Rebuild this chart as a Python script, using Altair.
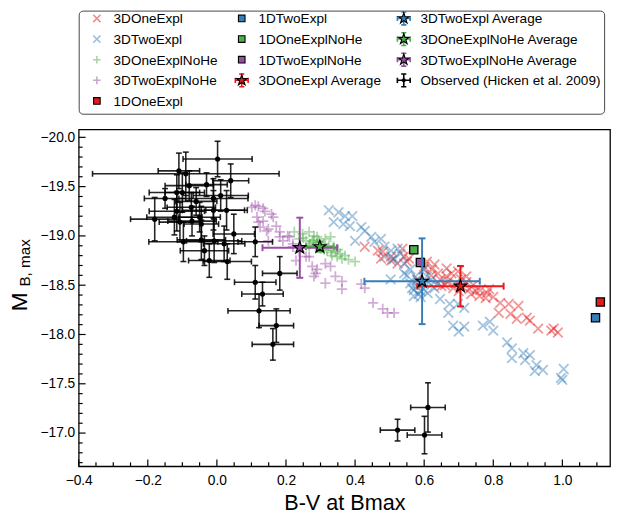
import altair as alt
import pandas as pd

FONT = "Liberation Sans"
RED, BLUE, GREEN, PURPLE = "#e41a1c", "#377eb8", "#4daf4a", "#984ea3"

LABELS = ["3DOneExpl", "3DTwoExpl", "3DOneExplNoHe", "3DTwoExplNoHe", "1DOneExpl",
          "1DTwoExpl", "1DOneExplNoHe", "1DTwoExplNoHe", "3DOneExpl Average",
          "3DTwoExpl Average", "3DOneExplNoHe Average", "3DTwoExplNoHe Average",
          "Observed (Hicken et al. 2009)"]
COLORS = [RED, BLUE, GREEN, PURPLE, RED, BLUE, GREEN, PURPLE, RED, BLUE, GREEN, PURPLE, "black"]
LEG_KIND = ["x", "x", "plus", "plus", "square", "square", "square", "square",
            "avg", "avg", "avg", "avg", "obs"]
LEG_COL = [0, 0, 0, 0, 0, 1, 1, 1, 1, 2, 2, 2, 2]
LEG_ROW = [0, 1, 2, 3, 4, 0, 1, 2, 3, 0, 1, 2, 3]

# 3DOneExpl
red_x = [0.428, 0.466, 0.475, 0.504, 0.523, 0.542, 0.550, 0.600, 0.480, 0.504, 0.537, 0.556,
         0.608, 0.622, 0.630, 0.665, 0.679, 0.665, 0.698, 0.722, 0.650, 0.684, 0.731, 0.750,
         0.736, 0.760, 0.788, 0.778, 0.820, 0.845, 0.873, 0.816, 0.850, 0.897, 0.906, 0.930,
         0.968, 0.987, 0.598, 0.580, 0.646, 0.707, 0.868, 0.975, 0.690, 0.712, 0.722, 0.670,
         0.742, 0.762, 0.700, 0.640, 0.620, 0.660, 0.782, 0.800]
red_y = [-18.89, -18.85, -18.77, -18.75, -18.72, -18.79, -18.74, -18.69, -18.84, -18.79, -18.87, -18.77,
         -18.74, -18.66, -18.71, -18.67, -18.62, -18.59, -18.64, -18.59, -18.49, -18.47, -18.46, -18.44,
         -18.41, -18.39, -18.46, -18.37, -18.32, -18.31, -18.29, -18.22, -18.21, -18.17, -18.14, -18.06,
         -18.04, -18.02, -18.66, -18.56, -18.56, -18.56, -18.16, -18.06, -18.52, -18.48, -18.53, -18.54,
         -18.50, -18.45, -18.44, -18.62, -18.60, -18.50, -18.42, -18.38]
# 3DTwoExpl
blue_x = [0.324, 0.352, 0.371, 0.392, 0.338, 0.366, 0.385, 0.418, 0.428, 0.400, 0.447, 0.456,
          0.475, 0.485, 0.504, 0.523, 0.485, 0.513, 0.531, 0.542, 0.560, 0.575, 0.560, 0.580,
          0.598, 0.584, 0.600, 0.509, 0.542, 0.503, 0.565, 0.570, 0.590, 0.608, 0.646, 0.674,
          0.670, 0.698, 0.716, 0.684, 0.700, 0.716, 0.770, 0.790, 0.800, 0.840, 0.854, 0.887,
          0.854, 0.906, 0.925, 0.944, 0.920, 1.004, 0.996, 1.000, 0.892, 0.580, 0.600, 0.620,
          0.570, 0.610, 0.630, 0.590, 0.550, 0.620, 0.640]
blue_y = [-19.26, -19.24, -19.20, -19.20, -19.14, -19.12, -19.10, -19.09, -19.05, -18.95, -18.99, -18.94,
          -18.97, -18.89, -18.85, -18.87, -18.79, -18.77, -18.82, -18.72, -18.66, -18.59, -18.52, -18.49,
          -18.46, -18.41, -18.66, -18.76, -18.62, -18.56, -18.47, -18.39, -18.44, -18.59, -18.36, -18.31,
          -18.22, -18.31, -18.27, -18.09, -18.03, -18.08, -18.09, -18.13, -18.04, -17.92, -17.86, -17.81,
          -17.76, -17.79, -17.69, -17.64, -17.63, -17.65, -17.56, -17.54, -17.74, -18.55, -18.52, -18.50,
          -18.45, -18.42, -18.47, -18.38, -18.60, -18.56, -18.52]
# 3DOneExplNoHe
green_x = [0.224, 0.248, 0.267, 0.281, 0.258, 0.276, 0.295, 0.310, 0.324, 0.319, 0.338, 0.343,
           0.357, 0.333, 0.362, 0.381, 0.400, 0.239, 0.286, 0.300, 0.267, 0.348, 0.371, 0.329,
           0.290, 0.314, 0.250, 0.270, 0.290, 0.310, 0.330, 0.350, 0.280]
green_y = [-19.04, -19.02, -19.04, -19.00, -18.95, -18.94, -18.95, -18.92, -18.90, -18.85, -18.89, -18.84,
           -18.82, -18.80, -18.77, -18.76, -18.74, -18.97, -18.89, -18.87, -18.90, -18.79, -18.80, -18.99,
           -18.99, -18.97, -18.98, -18.92, -18.93, -18.86, -18.83, -18.86, -18.96]
# 3DTwoExplNoHe
purple_x = [0.101, 0.120, 0.139, 0.116, 0.134, 0.163, 0.125, 0.144, 0.149, 0.182, 0.210, 0.220,
            0.258, 0.276, 0.286, 0.314, 0.111, 0.134, 0.120, 0.158, 0.172, 0.182, 0.149, 0.205,
            0.191, 0.220, 0.239, 0.229, 0.267, 0.290, 0.281, 0.314, 0.343, 0.362, 0.362, 0.418,
            0.428, 0.452, 0.480, 0.513, 0.494, 0.329]
purple_y = [-19.29, -19.30, -19.25, -19.19, -19.15, -19.19, -19.09, -19.05, -18.95, -18.99, -18.99, -18.92,
            -18.79, -18.69, -18.62, -18.52, -19.31, -19.28, -19.14, -19.22, -19.10, -19.04, -19.07, -19.00,
            -18.95, -18.89, -18.84, -18.75, -18.79, -18.66, -18.59, -18.72, -18.59, -18.54, -18.46, -18.51,
            -18.47, -18.32, -18.26, -18.22, -18.22, -18.69]

# 1D models
oned_labels = ["1DOneExpl", "1DTwoExpl", "1DOneExplNoHe", "1DTwoExplNoHe"]
oned_x = [1.110, 1.096, 0.570, 0.589]
oned_y = [-18.33, -18.17, -18.86, -18.73]

# 3D averages
avg_labels = ["3DOneExpl Average", "3DTwoExpl Average", "3DOneExplNoHe Average", "3DTwoExplNoHe Average"]
avg_x = [0.705, 0.594, 0.298, 0.240]
avg_y = [-18.49, -18.54, -18.89, -18.88]
avg_xerr = [0.125, 0.167, 0.040, 0.108]
avg_yerr = [0.205, 0.435, 0.050, 0.305]

# Observed (Hicken et al. 2009)
obs_x = [0.002, -0.11, -0.09, 0.04, -0.08, -0.03, -0.15, -0.116, -0.10, -0.01, 0.011, -0.06, -0.074,
         -0.116, -0.01, 0.028, -0.18, -0.123, -0.107, -0.072, -0.045, -0.05, 0.049, -0.097, -0.045,
         -0.008, 0.021, -0.036, -0.022, 0.03, 0.111, 0.182, 0.111, 0.132, 0.122, 0.172, 0.162,
         0.611, 0.601, 0.523]
obs_y = [-19.78, -19.66, -19.63, -19.56, -19.51, -19.52, -19.38, -19.44, -19.44, -19.38, -19.41, -19.35,
         -19.29, -19.25, -19.26, -19.26, -19.17, -19.19, -19.14, -19.15, -19.12, -19.19, -19.02, -18.94,
         -18.96, -18.95, -18.92, -18.85, -18.75, -18.74, -18.94, -18.62, -18.53, -18.41, -18.24, -18.09,
         -17.90, -17.26, -16.98, -17.03]
obs_xerr = [0.10, 0.06, 0.27, 0.052, 0.07, 0.06, 0.06, 0.08, 0.05, 0.10, 0.08, 0.06, 0.07, 0.08, 0.09,
            0.06, 0.07, 0.08, 0.06, 0.07, 0.05, 0.06, 0.06, 0.10, 0.07, 0.08, 0.06, 0.07, 0.06, 0.07,
            0.05, 0.05, 0.06, 0.06, 0.09, 0.05, 0.06, 0.05, 0.05, 0.05]
obs_yerr = [0.18, 0.18, 0.22, 0.17, 0.15, 0.12, 0.10, 0.18, 0.20, 0.20, 0.16, 0.14, 0.15, 0.20, 0.20,
            0.20, 0.22, 0.18, 0.20, 0.15, 0.18, 0.15, 0.20, 0.20, 0.20, 0.22, 0.18, 0.15, 0.17, 0.18,
            0.15, 0.17, 0.17, 0.12, 0.17, 0.17, 0.16, 0.25, 0.19, 0.11]

# axis ticks
X_MAJOR = [-0.4, -0.2, 0.0, 0.2, 0.4, 0.6, 0.8, 1.0]
X_MINOR = [-0.35, -0.3, -0.25, -0.15, -0.1, -0.05, 0.05, 0.1, 0.15, 0.25, 0.3, 0.35, 0.45, 0.5,
           0.55, 0.65, 0.7, 0.75, 0.85, 0.9, 0.95, 1.05, 1.1]
Y_MAJOR = [-20.0, -19.5, -19.0, -18.5, -18.0, -17.5, -17.0]
Y_MINOR = [-19.9, -19.8, -19.7, -19.6, -19.4, -19.3, -19.2, -19.1, -18.9, -18.8, -18.7, -18.6,
           -18.4, -18.3, -18.2, -18.1, -17.9, -17.8, -17.7, -17.6, -17.4, -17.3, -17.2, -17.1,
           -16.9, -16.8, -16.7]

# ---------------------------------------------------------------
W, H = 541, 343
XPATH = "M-1,-1L1,1M-1,1L1,-1"
PPATH = "M-1,0L1,0M0,-1L0,1"
VCAP = "M0,-1L0,1"
HCAP = "M-1,0L1,0"
STAR = ("M0,-1L0.225,-0.309L0.951,-0.309L0.363,0.118L0.588,0.809L0,0.382"
        "L-0.588,0.809L-0.363,0.118L-0.951,-0.309L-0.225,-0.309Z")
EBPATH = ("M-1,0L1,0M0,-1L0,1M-1,-0.4L-1,0.4M1,-0.4L1,0.4"
          "M-0.4,-1L0.4,-1M-0.4,1L0.4,1")

cscale = alt.Scale(domain=LABELS, range=COLORS)
xs = alt.Scale(domain=[-0.4, 1.138], nice=False, zero=False)
ys = alt.Scale(domain=[-20.08, -16.663], reverse=True, nice=False, zero=False)
xaxis = alt.Axis(values=X_MAJOR, format=".1f", ticks=False, domain=False, grid=False,
                 labelFontSize=14, labelFont=FONT, labelColor="black", labelPadding=8,
                 labelFlush=False,
                 title="B-V at Bmax", titleFont=FONT, titleFontSize=22, titleFontWeight="normal",
                 titleColor="black", titlePadding=5)
yaxis = alt.Axis(values=Y_MAJOR, format=".1f", ticks=False, domain=False, grid=False,
                 labelFontSize=14, labelFont=FONT, labelColor="black", labelPadding=4,
                 labelFlush=False, title=None)


def X(f):
    return alt.X(f, type="quantitative", scale=xs, axis=xaxis)


def Y(f):
    return alt.Y(f, type="quantitative", scale=ys, axis=yaxis)


def col(f="label"):
    return alt.Color(f, type="nominal", scale=cscale, legend=None)


def fil(f="label"):
    return alt.Fill(f, type="nominal", scale=cscale, legend=None)


sc_x = pd.concat([pd.DataFrame({"label": "3DOneExpl", "x": red_x, "y": red_y}),
                  pd.DataFrame({"label": "3DTwoExpl", "x": blue_x, "y": blue_y})])
sc_p = pd.concat([pd.DataFrame({"label": "3DOneExplNoHe", "x": green_x, "y": green_y}),
                  pd.DataFrame({"label": "3DTwoExplNoHe", "x": purple_x, "y": purple_y})])
obs = pd.DataFrame({"x": obs_x, "y": obs_y, "xerr": obs_xerr, "yerr": obs_yerr})
obs["xlo"], obs["xhi"] = obs.x - obs.xerr, obs.x + obs.xerr
obs["ylo"], obs["yhi"] = obs.y - obs.yerr, obs.y + obs.yerr
oned = pd.DataFrame({"label": oned_labels, "x": oned_x, "y": oned_y})
avg = pd.DataFrame({"label": avg_labels, "x": avg_x, "y": avg_y, "xerr": avg_xerr, "yerr": avg_yerr})
avg["xlo"], avg["xhi"] = avg.x - avg.xerr, avg.x + avg.xerr
avg["ylo"], avg["yhi"] = avg.y - avg.yerr, avg.y + avg.yerr


def errbars(df, sw, cap, colored, op):
    enc = {"color": col()} if colored else {}
    kw = {} if colored else {"color": "black"}
    b = alt.Chart(df)
    return [
        b.mark_rule(strokeWidth=sw, opacity=op, **kw).encode(x=X("xlo"), x2="xhi", y=Y("y"), **enc),
        b.mark_rule(strokeWidth=sw, opacity=op, **kw).encode(y=Y("ylo"), y2="yhi", x=X("x"), **enc),
        b.mark_point(shape=VCAP, size=cap, strokeWidth=sw, opacity=op, filled=False, **kw).encode(
            x=X("xlo"), y=Y("y"), **enc),
        b.mark_point(shape=VCAP, size=cap, strokeWidth=sw, opacity=op, filled=False, **kw).encode(
            x=X("xhi"), y=Y("y"), **enc),
        b.mark_point(shape=HCAP, size=cap, strokeWidth=sw, opacity=op, filled=False, **kw).encode(
            x=X("x"), y=Y("ylo"), **enc),
        b.mark_point(shape=HCAP, size=cap, strokeWidth=sw, opacity=op, filled=False, **kw).encode(
            x=X("x"), y=Y("yhi"), **enc),
    ]


l_x = alt.Chart(sc_x).mark_point(shape=XPATH, filled=False, size=95, strokeWidth=1.8, opacity=0.45).encode(
    x=X("x"), y=Y("y"), color=col())
l_p = alt.Chart(sc_p).mark_point(shape=PPATH, filled=False, size=110, strokeWidth=1.8, opacity=0.45).encode(
    x=X("x"), y=Y("y"), color=col())

ob_layers = errbars(obs, 1.6, 36, False, 0.85)
ob_d = alt.Chart(obs).mark_circle(size=28, color="black", opacity=1).encode(x=X("x"), y=Y("y"))

l_sq = alt.Chart(oned).mark_point(shape="square", filled=True, size=70, stroke="black", strokeWidth=1.3,
                                  opacity=1).encode(x=X("x"), y=Y("y"), fill=fil())

av_layers = errbars(avg, 2, 49, True, 1)
av_s = alt.Chart(avg).mark_point(shape=STAR, filled=True, size=180, stroke="black", strokeWidth=1.2,
                                 opacity=1).encode(x=X("x"), y=Y("y"), fill=fil())

xt_maj = alt.Chart(pd.DataFrame({"v": X_MAJOR})).mark_rule(color="black", strokeWidth=1.2).encode(
    x=X("v"), y=alt.value(H), y2=alt.value(H - 7))
xt_min = alt.Chart(pd.DataFrame({"v": X_MINOR})).mark_rule(color="black", strokeWidth=1.2).encode(
    x=X("v"), y=alt.value(H), y2=alt.value(H - 4))
yt_maj = alt.Chart(pd.DataFrame({"v": Y_MAJOR})).mark_rule(color="black", strokeWidth=1.2).encode(
    y=Y("v"), x=alt.value(0), x2=alt.value(7))
yt_min = alt.Chart(pd.DataFrame({"v": Y_MINOR})).mark_rule(color="black", strokeWidth=1.2).encode(
    y=Y("v"), x=alt.value(0), x2=alt.value(4))

t_m = alt.Chart(pd.DataFrame({"t": ["M"]})).mark_text(
    angle=270, align="left", baseline="alphabetic", fontSize=23, font=FONT, color="black").encode(
    text="t:N", x=alt.value(-53), y=alt.value(185))
t_s = alt.Chart(pd.DataFrame({"t": ["B, max"]})).mark_text(
    angle=270, align="left", baseline="alphabetic", fontSize=15.5, font=FONT, color="black").encode(
    text="t:N", x=alt.value(-50), y=alt.value(160))

main = alt.layer(l_x, l_p, *ob_layers, ob_d, l_sq, *av_layers, av_s,
                 xt_maj, xt_min, yt_maj, yt_min, t_m, t_s).properties(
    width=W, height=H, view=alt.ViewBackground(stroke="black", strokeWidth=1.3))

# ---------------- legend panel ----------------
leg = pd.DataFrame({"label": LABELS, "kind": LEG_KIND, "col": LEG_COL, "row": LEG_ROW})
lxs = alt.Scale(domain=[0, 1, 2], range=[18.5, 166, 331])
lys = alt.Scale(domain=[-0.38, 4.62], range=[0, 105])
LX = alt.X("col:Q", scale=lxs, axis=None)
LY = alt.Y("row:Q", scale=lys, axis=None)
base = alt.Chart(leg)

g_x = base.transform_filter(alt.datum.kind == "x").mark_point(
    shape=XPATH, filled=False, size=55, strokeWidth=1.6, opacity=0.5).encode(x=LX, y=LY, color=col())
g_p = base.transform_filter(alt.datum.kind == "plus").mark_point(
    shape=PPATH, filled=False, size=60, strokeWidth=1.6, opacity=0.5).encode(x=LX, y=LY, color=col())
g_sq = base.transform_filter(alt.datum.kind == "square").mark_point(
    shape="square", filled=True, size=45, stroke="black", strokeWidth=1.1, opacity=1).encode(
    x=LX, y=LY, fill=fil())
g_eb = base.transform_filter((alt.datum.kind == "avg") | (alt.datum.kind == "obs")).mark_point(
    shape=EBPATH, filled=False, size=170, strokeWidth=1.6, opacity=1).encode(x=LX, y=LY, color=col())
g_st = base.transform_filter(alt.datum.kind == "avg").mark_point(
    shape=STAR, filled=True, size=130, stroke="black", strokeWidth=1.1, opacity=1).encode(
    x=LX, y=LY, fill=fil())
g_dot = base.transform_filter(alt.datum.kind == "obs").mark_circle(size=18, color="black", opacity=1).encode(
    x=LX, y=LY)
g_tx = base.mark_text(align="left", baseline="alphabetic", dx=17, dy=5, fontSize=13.8, font=FONT,
                      color="black").encode(x=LX, y=LY, text="label:N")

legend = alt.layer(g_x, g_p, g_sq, g_eb, g_st, g_dot, g_tx).properties(
    width=535, height=105,
    view=alt.ViewBackground(stroke="#444444", strokeWidth=1, cornerRadius=4))

chart = alt.vconcat(legend, main, spacing=14).resolve_scale(
    x="independent", y="independent", color="independent", fill="independent").properties(
    padding={"top": -5, "left": 0, "right": 0, "bottom": 0}).configure(font=FONT, background="white")

chart.save("out.html", embed_options={"renderer": "svg", "actions": False})
